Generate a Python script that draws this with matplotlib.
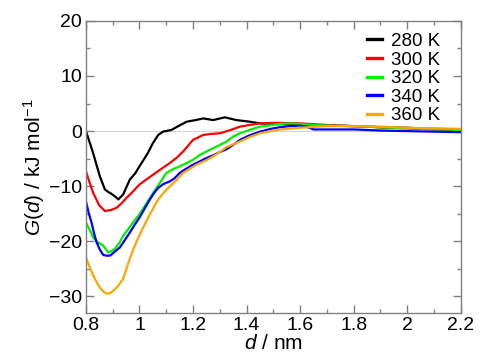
import matplotlib
matplotlib.use("Agg")
import matplotlib.pyplot as plt

plt.rcParams['font.family'] = ['Liberation Sans', 'DejaVu Sans']
plt.rcParams['mathtext.fontset'] = 'custom'
plt.rcParams['mathtext.rm'] = 'Liberation Sans'
plt.rcParams['mathtext.it'] = 'Liberation Sans:italic'

# Free-energy profiles G(d) at each temperature
d_280 = [0.80, 0.815, 0.827, 0.84, 0.852, 0.871, 0.885, 0.896, 0.91, 0.921, 0.939, 0.964,
         0.985, 1.0, 1.031, 1.05, 1.07, 1.088, 1.119, 1.145, 1.176, 1.21, 1.238, 1.275,
         1.319, 1.362, 1.412, 1.45, 1.5, 1.6, 1.7, 1.8, 1.9, 2.0, 2.1, 2.2]
g_280 = [0.0, -2.2, -4.0, -6.2, -8.2, -10.6, -11.1, -11.4, -11.9, -12.4, -11.5, -8.8,
         -7.6, -6.4, -4.0, -2.2, -0.7, -0.1, 0.2, 0.9, 1.7, 2.0, 2.3, 2.0,
         2.5, 2.0, 1.7, 1.4, 1.3, 1.2, 1.0, 0.9, 0.7, 0.6, 0.4, 0.3]

d_300 = [0.80, 0.815, 0.827, 0.85, 0.871, 0.895, 0.915, 0.935, 0.952, 0.975, 1.0, 1.025,
         1.051, 1.08, 1.113, 1.14, 1.163, 1.2, 1.238, 1.27, 1.3, 1.34, 1.375, 1.41,
         1.45, 1.52, 1.6, 1.7, 1.8, 1.9, 2.0, 2.1, 2.2]
g_300 = [-7.3, -9.5, -11.2, -13.5, -14.5, -14.3, -13.9, -13.0, -12.1, -11.0, -9.7, -8.8,
         -7.9, -6.9, -5.8, -4.8, -3.7, -1.6, -0.7, -0.5, -0.4, 0.2, 0.8, 1.1,
         1.4, 1.5, 1.4, 1.1, 0.9, 0.7, 0.5, 0.3, 0.1]

d_320 = [0.80, 0.815, 0.827, 0.845, 0.865, 0.883, 0.895, 0.908, 0.925, 0.939, 0.955, 0.971,
         0.985, 1.0, 1.025, 1.051, 1.075, 1.1, 1.126, 1.15, 1.176, 1.2, 1.226, 1.25,
         1.288, 1.325, 1.35, 1.375, 1.41, 1.45, 1.524, 1.56, 1.6, 1.65, 1.7, 1.8,
         1.9, 2.0, 2.1, 2.2]
g_320 = [-16.6, -18.0, -19.3, -20.2, -20.8, -22.0, -21.8, -21.4, -20.3, -19.0, -18.0, -16.9,
         -16.0, -15.1, -13.2, -11.2, -9.5, -7.6, -6.9, -6.4, -5.8, -5.2, -4.3, -3.7,
         -2.8, -1.9, -1.0, -0.4, 0.2, 0.8, 1.3, 1.4, 1.3, 1.1, 1.0, 0.9,
         0.7, 0.5, 0.3, 0.2]

d_340 = [0.80, 0.81, 0.821, 0.83, 0.84, 0.852, 0.865, 0.877, 0.89, 0.905, 0.927, 0.945,
         0.964, 0.982, 1.0, 1.02, 1.039, 1.055, 1.07, 1.09, 1.114, 1.13, 1.15, 1.175,
         1.2, 1.225, 1.25, 1.275, 1.3, 1.325, 1.35, 1.375, 1.41, 1.45, 1.49, 1.524,
         1.56, 1.6, 1.63, 1.65, 1.7, 1.8, 1.9, 2.0, 2.1, 2.2]
g_340 = [-12.7, -14.8, -16.6, -18.5, -20.2, -21.5, -22.5, -22.6, -22.6, -22.0, -21.1, -19.8,
         -18.4, -17.0, -15.7, -14.0, -12.4, -11.2, -10.3, -9.6, -9.1, -8.6, -7.6, -6.8,
         -6.1, -5.5, -4.9, -4.4, -3.8, -3.3, -2.5, -1.6, -0.8, -0.1, 0.4, 0.7,
         0.9, 1.0, 0.7, 0.3, 0.3, 0.3, 0.1, 0.0, -0.1, -0.2]

d_360 = [0.80, 0.815, 0.827, 0.84, 0.852, 0.865, 0.877, 0.89, 0.902, 0.92, 0.939, 0.958,
         0.977, 0.995, 1.014, 1.04, 1.07, 1.09, 1.114, 1.14, 1.163, 1.19, 1.213, 1.245,
         1.275, 1.3, 1.325, 1.35, 1.375, 1.41, 1.45, 1.49, 1.524, 1.6, 1.7, 1.8,
         1.9, 2.0, 2.1, 2.2]
g_360 = [-22.9, -24.8, -26.2, -27.4, -28.4, -29.1, -29.5, -29.4, -29.0, -28.1, -26.8, -24.0,
         -21.4, -19.4, -17.5, -15.0, -12.4, -11.2, -10.0, -8.8, -7.6, -6.8, -6.1, -5.4,
         -4.6, -3.8, -2.9, -2.4, -1.9, -1.1, -0.4, 0.0, 0.3, 0.6, 0.9, 0.9,
         0.8, 0.6, 0.5, 0.4]

labels = ["280 K", "300 K", "320 K", "340 K", "360 K"]
colors = ["#000000", "#ff0000", "#00ee00", "#0000ff", "#ffa500"]
series = [(d_280, g_280), (d_300, g_300), (d_320, g_320), (d_340, g_340), (d_360, g_360)]

x_ticks = [0.8, 1.0, 1.2, 1.4, 1.6, 1.8, 2.0, 2.2]
x_ticklabels = ["0.8", "1", "1.2", "1.4", "1.6", "1.8", "2", "2.2"]
y_ticks = [-30, -20, -10, 0, 10, 20]

fig = plt.figure(figsize=(4.8, 3.54), dpi=100)
ax = fig.add_axes([0.179, 0.116, 0.781, 0.825])

ax.axhline(0, color="#d4d4d4", lw=0.7, zorder=1)
for (d, g), lab, c in zip(series, labels, colors):
    ax.plot(d, g, color=c, lw=1.6, label=lab, zorder=2)

ax.set_xlim(0.8, 2.2)
ax.set_ylim(-33, 20)
ax.set_xticks(x_ticks)
ax.set_xticklabels(x_ticklabels)
ax.set_xticks([0.9, 1.1, 1.3, 1.5, 1.7, 1.9, 2.1], minor=True)
ax.set_yticks(y_ticks)
ax.set_yticks([-25, -15, -5, 5, 15], minor=True)

frame_col = "#808080"
for s in ax.spines.values():
    s.set_color(frame_col)
    s.set_linewidth(1.0)
ax.tick_params(which="both", direction="in", top=True, right=True,
               color=frame_col, labelsize=14, pad=3)
ax.tick_params(which="major", length=6, width=1.0)
ax.tick_params(which="minor", length=3, width=1.0)

ax.set_xlabel("$d$ / nm", fontsize=15, labelpad=0)
ax.set_ylabel("$G(d)$ / kJ mol$^{-1}$", fontsize=15, labelpad=1)

leg = ax.legend(loc="upper right", frameon=False, fontsize=13.5, handlelength=0.8,
                handletextpad=0.45, labelspacing=0.08, borderaxespad=0.0,
                bbox_to_anchor=(0.965, 0.985))
for h in leg.get_lines():
    h.set_linewidth(2.4)

fig.savefig("out.png", dpi=100)
